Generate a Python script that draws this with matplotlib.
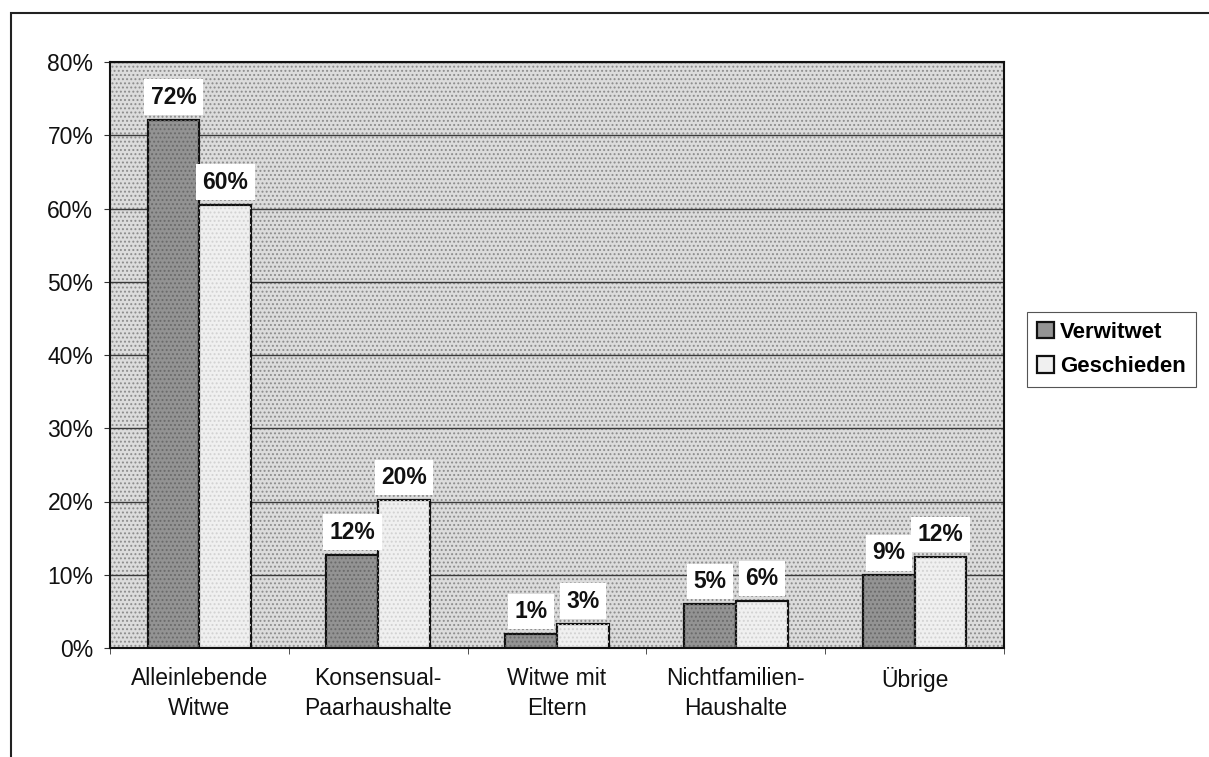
import matplotlib
matplotlib.use('Agg')
import matplotlib.pyplot as plt
import numpy as np
from matplotlib.patches import Rectangle

# Daten
categories = ['Alleinlebende\nWitwe', 'Konsensual-\nPaarhaushalte', 'Witwe mit\nEltern',
              'Nichtfamilien-\nHaushalte', 'Übrige']
verwitwet = [72.1, 12.7, 1.9, 6.0, 9.9]
geschieden = [60.5, 20.2, 3.3, 6.4, 12.4]
labels_verwitwet = ['72%', '12%', '1%', '5%', '9%']
labels_geschieden = ['60%', '20%', '3%', '6%', '12%']
y_ticks = [0, 10, 20, 30, 40, 50, 60, 70, 80]

plt.rcParams['font.family'] = ['Liberation Sans', 'DejaVu Sans']
plt.rcParams['hatch.linewidth'] = 0.9

fig = plt.figure(figsize=(12.09, 7.57), dpi=100)
ax = fig.add_axes([110 / 1209, 1 - 648 / 757, 894 / 1209, 586 / 757])

# Hintergrund gepunktet
ax.patch.set_facecolor('#dcdcdc')
ax.add_patch(Rectangle((0, 0), 1, 1, transform=ax.transAxes, facecolor='none',
                       edgecolor='#8c8c8c', linewidth=0, hatch='....', zorder=0.5))

x = np.arange(len(categories))
w = 0.29
b1 = ax.bar(x - w / 2, verwitwet, w, color='#939393', edgecolor='#111111', linewidth=1.6, zorder=3,
            label='Verwitwet')
b2 = ax.bar(x + w / 2, geschieden, w, color='#f0f0f0', edgecolor='#111111', linewidth=1.6, zorder=3,
            label='Geschieden')
# Rasterstruktur der Balken (Scan-Optik)
ax.bar(x - w / 2, verwitwet, w, color='none', edgecolor='#6a6a6a', linewidth=0, hatch='....', zorder=3.5)
ax.bar(x + w / 2, geschieden, w, color='none', edgecolor='#d2d2d2', linewidth=0, hatch='....', zorder=3.5)

# Datenbeschriftungen
for bars, labs in [(b1, labels_verwitwet), (b2, labels_geschieden)]:
    for rect, lab in zip(bars, labs):
        ax.annotate(lab, (rect.get_x() + rect.get_width() / 2, rect.get_height()),
                    xytext=(0, 8), textcoords='offset points', ha='center', va='bottom',
                    fontsize=16.5, fontweight='bold', color='#111111', zorder=5,
                    bbox=dict(boxstyle='square,pad=0.28', facecolor='white', edgecolor='none'))

ax.set_xlim(-0.5, len(categories) - 0.5)
ax.set_ylim(0, 80)
ax.set_yticks(y_ticks)
ax.set_yticklabels([f'{t}%' for t in y_ticks], fontsize=16.5, color='#111111')
ax.set_xticks(x)
ax.set_xticklabels(categories, fontsize=16.5, color='#111111', linespacing=1.35)
ax.set_xticks(np.arange(len(categories) + 1) - 0.5, minor=True)
ax.tick_params(axis='x', which='major', length=0, pad=14)
ax.tick_params(axis='x', which='minor', length=4, direction='out', color='#333333')
ax.tick_params(axis='y', length=4, direction='out', pad=8, color='#333333')

ax.yaxis.grid(True, color='#3a3a3a', linewidth=1.0, linestyle='-')
ax.set_axisbelow(True)
for s in ax.spines.values():
    s.set_color('#111111')
    s.set_linewidth(1.5)

# Legende
leg = fig.legend(handles=[b1, b2], loc='upper left', bbox_to_anchor=(1027 / 1209, 1 - 312 / 757),
                 frameon=True, fancybox=False, edgecolor='#555555', framealpha=1,
                 prop={'size': 16, 'weight': 'bold'}, handlelength=0.75, handleheight=0.75,
                 handletextpad=0.3, borderpad=0.45, labelspacing=0.6, borderaxespad=0)
leg.get_frame().set_linewidth(0.8)

# Außenrahmen
fig.add_artist(Rectangle((11 / 1209, -0.05), 1.1, 1 - 13 / 757 + 0.05, transform=fig.transFigure,
                         fill=False, edgecolor='#222222', linewidth=1.5, clip_on=False))

fig.savefig('out.png', dpi=100, facecolor='white')
plt.close()
